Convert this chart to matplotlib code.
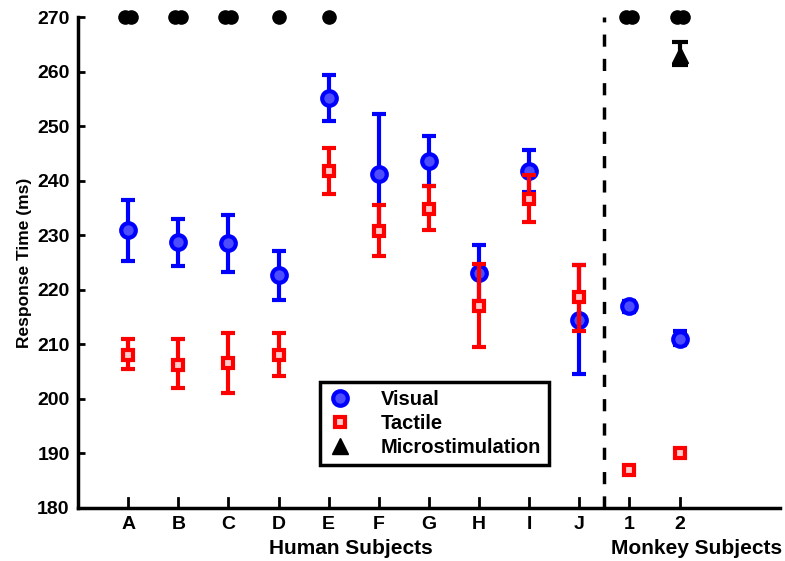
import matplotlib
matplotlib.use("Agg")
import matplotlib.pyplot as plt
from matplotlib.lines import Line2D
import numpy as np

plt.rcParams['font.family'] = ['Liberation Sans', 'DejaVu Sans']
plt.rcParams['font.weight'] = 'bold'

categories = ['A', 'B', 'C', 'D', 'E', 'F', 'G', 'H', 'I', 'J', '1', '2']
visual = [231.0, 228.7, 228.5, 222.8, 255.2, 241.2, 243.6, 223.0, 241.7, 214.5, 217.0, 211.0]
visual_lo = [225.2, 224.4, 223.2, 218.2, 251.0, 230.0, 239.0, 218.0, 238.0, 204.6, 216.0, 209.8]
visual_hi = [236.4, 233.0, 233.8, 227.2, 259.4, 252.3, 248.2, 228.3, 245.6, 224.5, 218.0, 212.4]
tactile = [208.0, 206.3, 206.5, 208.0, 241.8, 230.8, 234.8, 217.0, 236.6, 218.7, 187.0, 190.0]
tactile_lo = [205.5, 202.0, 201.0, 204.2, 237.5, 226.2, 231.0, 209.5, 232.5, 212.5, 187.0, 190.0]
tactile_hi = [211.0, 211.0, 212.0, 212.0, 246.0, 235.5, 239.0, 224.8, 241.0, 224.5, 187.0, 190.0]
micro_idx = [11]
micro = [263.0]
micro_lo = [261.2]
micro_hi = [265.4]
# significance markers: number of dots per subject
sig_count = [2, 2, 2, 1, 1, 0, 0, 0, 0, 0, 2, 2]

x = np.arange(1, len(categories) + 1)

fig = plt.figure(figsize=(7.85, 5.61), dpi=100)
ax = fig.add_axes([0.0994, 0.0945, 0.894, 0.875])

vis_err = [np.array(visual) - np.array(visual_lo), np.array(visual_hi) - np.array(visual)]
tac_err = [np.array(tactile) - np.array(tactile_lo), np.array(tactile_hi) - np.array(tactile)]

vis_style = dict(marker='o', linestyle='none', markersize=10.5, markerfacecolor='#4d4dff',
                 markeredgecolor='#0000ff', markeredgewidth=3)
tac_style = dict(marker='s', linestyle='none', markersize=7, markerfacecolor='#ffcccc',
                 markeredgecolor='#ff0000', markeredgewidth=3)
mic_style = dict(marker='^', linestyle='none', markersize=12, markerfacecolor='black',
                 markeredgecolor='black')

ax.errorbar(x, visual, yerr=vis_err, ecolor='#0000ff', elinewidth=3, capsize=5,
            capthick=3, zorder=3, **vis_style)
ax.errorbar(x, tactile, yerr=tac_err, ecolor='#ff0000', elinewidth=3, capsize=5,
            capthick=3, zorder=4, **tac_style)
mx = [x[i] for i in micro_idx]
mic_err = [np.array(micro) - np.array(micro_lo), np.array(micro_hi) - np.array(micro)]
ax.errorbar(mx, micro, yerr=mic_err, ecolor='black', elinewidth=3, capsize=6,
            capthick=3, zorder=3, **mic_style)

for xi, n in zip(x, sig_count):
    if n == 1:
        ax.plot([xi], [270], 'o', color='black', markersize=9.5, clip_on=False, zorder=5)
    elif n == 2:
        ax.plot([xi - 0.06, xi + 0.06], [270, 270], 'o', color='black', markersize=9.5,
                clip_on=False, zorder=5)

ax.axvline(10.5, color='black', linestyle=(0, (3.5, 3.5)), linewidth=2.5)

ax.set_xlim(0, 14)
ax.set_ylim(180, 270)
ax.set_xticks(x)
ax.set_xticklabels(categories, fontsize=14, fontweight='bold')
ax.set_yticks(np.arange(180, 271, 10))
ax.set_yticklabels([str(v) for v in range(180, 271, 10)], fontsize=14, fontweight='bold')
ax.tick_params(axis='y', direction='in', length=5, width=2, pad=6)
ax.tick_params(axis='x', direction='out', length=0, pad=6)
for xi in x:
    ax.plot([xi, xi], [180, 181.8], color='black', linewidth=2, clip_on=False)
ax.spines['top'].set_visible(False)
ax.spines['right'].set_visible(False)
ax.spines['left'].set_linewidth(2.5)
ax.spines['bottom'].set_linewidth(2.5)

ax.set_ylabel('Response Time (ms)', fontsize=12.5, fontweight='bold', labelpad=4)

fig.text(351 / 785, 1 - 548 / 561, 'Human Subjects', ha='center', va='center',
         fontsize=15, fontweight='bold')
fig.text(697 / 785, 1 - 548 / 561, 'Monkey Subjects', ha='center', va='center',
         fontsize=15, fontweight='bold')

handles = [Line2D([], [], **vis_style), Line2D([], [], **tac_style),
           Line2D([], [], **mic_style)]
labels = ['Visual', 'Tactile', 'Microstimulation']
leg = ax.legend(handles, labels, loc='upper left',
                bbox_to_anchor=(320 / 785, 1 - 382 / 561), bbox_transform=fig.transFigure,
                fontsize=14.5, frameon=True, fancybox=False, edgecolor='black',
                handletextpad=1.4, borderpad=0.4, labelspacing=0.25, handlelength=1.2,
                borderaxespad=0)
leg.get_frame().set_linewidth(2.5)
leg.get_frame().set_alpha(1)
for t in leg.get_texts():
    t.set_fontweight('bold')

fig.savefig('out.png', dpi=100)
